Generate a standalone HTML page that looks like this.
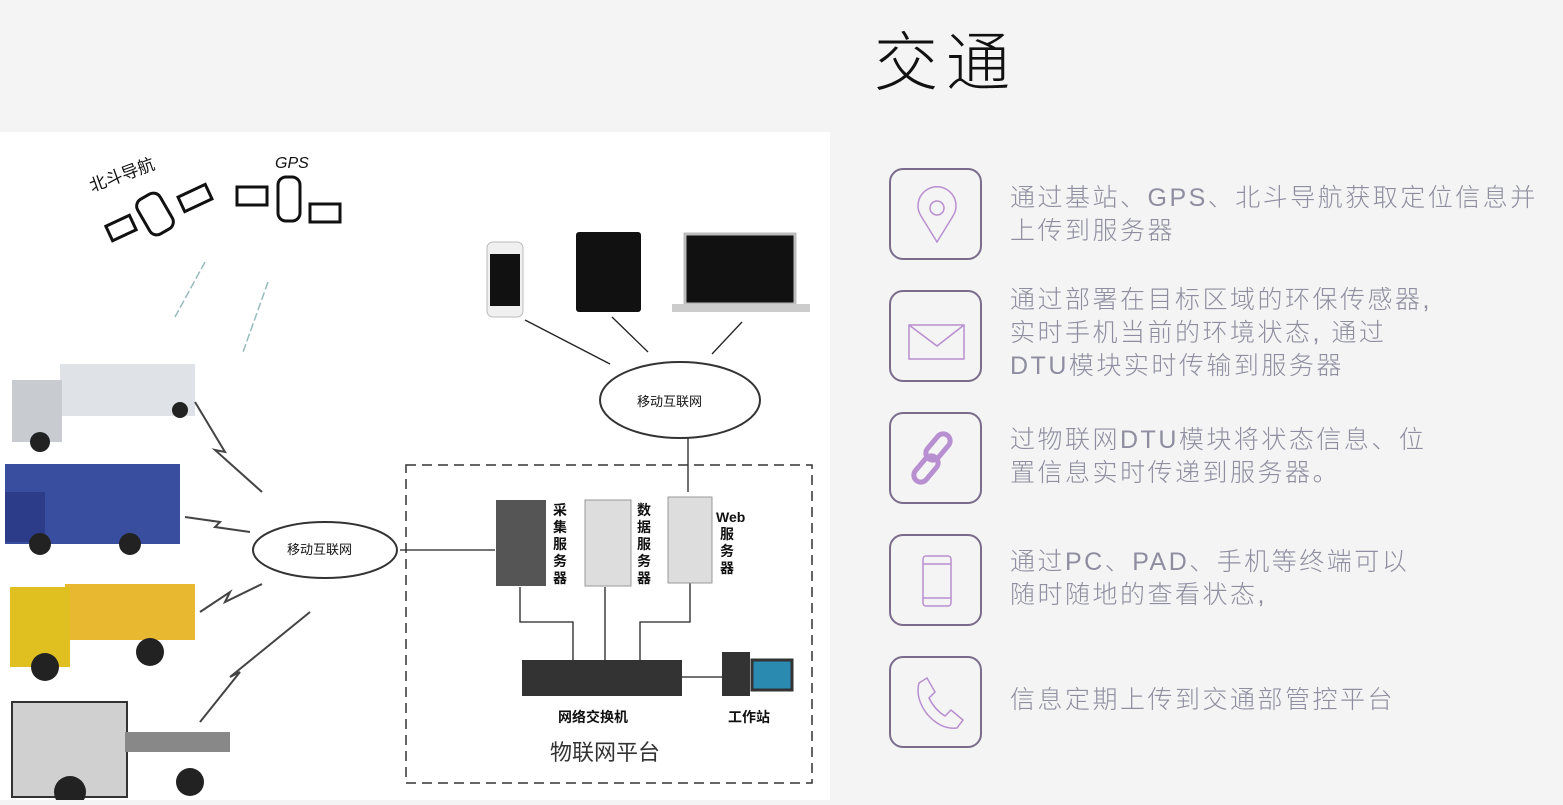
<!DOCTYPE html>
<html><head><meta charset="utf-8"><style>
*{margin:0;padding:0;box-sizing:border-box}
body{width:1563px;height:800px;background:#f4f4f4;position:relative;overflow:hidden;font-family:"Liberation Sans","Noto Sans CJK SC",sans-serif}
.title{position:absolute;left:874px;top:12px;font-size:64px;color:#111;letter-spacing:8px;font-weight:300}
.box{position:absolute;left:889px;width:93px;height:92px;border:2px solid #7b6c8c;border-radius:14px}
.box svg{position:absolute;left:0;top:0}
.txt{position:absolute;left:1010px;font-size:25px;letter-spacing:2.5px;line-height:33px;color:#8e8ea0;font-weight:300}
#dia{position:absolute;left:0;top:132px;width:830px;height:668px;background:#fff}
</style></head><body>
<div class="title">交通</div>
<div id="dia">
<svg width="830" height="668" font-family="Liberation Sans,Noto Sans CJK SC,sans-serif">
<text x="92" y="60" font-size="17" transform="rotate(-20 92 60)" fill="#111">北斗导航</text>
<text x="275" y="36" font-size="16" font-style="italic" fill="#111">GPS</text>
<g stroke="#111" stroke-width="3" fill="none">
<rect x="108" y="88" width="26" height="16" transform="rotate(-25 121 96)"/>
<rect x="142" y="62" width="26" height="40" rx="8" transform="rotate(-30 155 82)"/>
<rect x="180" y="58" width="30" height="16" transform="rotate(-25 195 66)"/>
<rect x="237" y="55" width="30" height="18"/>
<rect x="278" y="45" width="22" height="44" rx="8"/>
<rect x="310" y="72" width="30" height="18"/>
</g>
<g stroke="#9bb" stroke-width="1.5" stroke-dasharray="8 3"><line x1="205" y1="130" x2="175" y2="185"/><line x1="268" y1="150" x2="243" y2="220"/></g>
<rect x="60" y="232" width="135" height="52" fill="#dfe3e8"/><rect x="12" y="248" width="50" height="62" fill="#c8ccd0"/>
<rect x="5" y="332" width="175" height="80" fill="#3a4ea0"/><rect x="5" y="360" width="40" height="50" fill="#2c3c88"/>
<rect x="65" y="452" width="130" height="56" fill="#e8b830"/><rect x="10" y="455" width="60" height="80" fill="#e0c020"/>
<rect x="12" y="570" width="115" height="95" fill="#d0d0d0" stroke="#333" stroke-width="2"/><rect x="125" y="600" width="105" height="20" fill="#888"/>
<g fill="#222"><circle cx="40" cy="310" r="10"/><circle cx="180" cy="278" r="8"/><circle cx="40" cy="412" r="11"/><circle cx="130" cy="412" r="11"/><circle cx="45" cy="535" r="14"/><circle cx="150" cy="520" r="14"/><circle cx="70" cy="660" r="16"/><circle cx="190" cy="650" r="14"/></g>
<g stroke="#444" stroke-width="2" fill="none"><polyline points="195,270 225,320 215,318 262,360"/><polyline points="185,385 220,390 215,395 250,400"/><polyline points="200,480 230,460 225,470 262,452"/><polyline points="200,590 240,540 230,545 310,480"/></g>
<g fill="#fff" stroke="#333" stroke-width="2">
<ellipse cx="325" cy="418" rx="72" ry="28"/><ellipse cx="680" cy="268" rx="80" ry="38"/></g>
<text x="287" y="422" font-size="13" fill="#111">移动互联网</text>
<text x="637" y="274" font-size="13" fill="#111">移动互联网</text>
<rect x="487" y="110" width="36" height="75" rx="6" fill="#f0f0f0" stroke="#bbb"/><rect x="490" y="122" width="30" height="52" fill="#111"/>
<rect x="576" y="100" width="65" height="80" rx="3" fill="#111"/>
<rect x="685" y="102" width="110" height="70" fill="#111" stroke="#bbb" stroke-width="3"/><rect x="672" y="172" width="138" height="8" fill="#ccc"/>
<g stroke="#222" stroke-width="1.3"><line x1="525" y1="188" x2="610" y2="232"/><line x1="612" y1="185" x2="648" y2="220"/><line x1="742" y1="190" x2="712" y2="222"/><line x1="688" y1="306" x2="688" y2="360"/><line x1="400" y1="418" x2="495" y2="418"/>
<polyline points="520,455 520,490 573,490 573,530" fill="none"/><line x1="605" y1="455" x2="605" y2="530"/><polyline points="690,450 690,490 640,490 640,530" fill="none"/><line x1="680" y1="545" x2="730" y2="545"/></g>
<rect x="406" y="333" width="406" height="318" fill="none" stroke="#333" stroke-width="1.5" stroke-dasharray="10 6"/>
<rect x="496" y="368" width="50" height="86" fill="#555"/>
<rect x="585" y="368" width="46" height="86" fill="#ddd" stroke="#999"/>
<rect x="668" y="365" width="44" height="86" fill="#ddd" stroke="#999"/>
<g font-size="14" font-weight="bold" fill="#111"><text x="553" y="383">采</text><text x="553" y="400">集</text><text x="553" y="417">服</text><text x="553" y="434">务</text><text x="553" y="451">器</text>
<text x="637" y="383">数</text><text x="637" y="400">据</text><text x="637" y="417">服</text><text x="637" y="434">务</text><text x="637" y="451">器</text>
<text x="716" y="390">Web</text><text x="720" y="407">服</text><text x="720" y="424">务</text><text x="720" y="441">器</text>
<text x="558" y="590">网络交换机</text><text x="728" y="590">工作站</text></g>
<rect x="522" y="528" width="160" height="36" fill="#333"/>
<rect x="722" y="520" width="28" height="44" fill="#333"/><rect x="752" y="528" width="40" height="30" fill="#2a8ab0" stroke="#333" stroke-width="3"/>
<text x="550" y="628" font-size="22" fill="#333">物联网平台</text>
</svg></div>

<div class="box" style="top:168px"><svg width="93" height="92"><g fill="none" stroke="#b88fd0" stroke-width="1.5"><path d="M46 72 L30 46 A19 19 0 1 1 62 46 Z"/><circle cx="46" cy="38" r="7"/></g></svg></div>
<div class="txt" style="top:182px">通过基站、GPS、北斗导航获取定位信息并<br>上传到服务器</div>
<div class="box" style="top:290px"><svg width="93" height="92"><g fill="none" stroke="#b88fd0" stroke-width="1.5"><rect x="18" y="33" width="55" height="34"/><polyline points="18,33 46,54 73,33"/></g></svg></div>
<div class="txt" style="top:284px">通过部署在目标区域的环保传感器,<br>实时手机当前的环境状态, 通过<br>DTU模块实时传输到服务器</div>
<div class="box" style="top:412px"><svg width="93" height="92"><g fill="none" stroke="#b88fd0" stroke-width="5" stroke-linecap="round"><rect x="40" y="18" width="14" height="30" rx="7" transform="rotate(40 47 33)"/><rect x="28" y="40" width="14" height="30" rx="7" transform="rotate(40 35 55)"/></g></svg></div>
<div class="txt" style="top:424px">过物联网DTU模块将状态信息、位<br>置信息实时传递到服务器。</div>
<div class="box" style="top:534px"><svg width="93" height="92"><g fill="none" stroke="#b88fd0" stroke-width="1.5"><rect x="32" y="20" width="28" height="50" rx="3"/><line x1="32" y1="28" x2="60" y2="28"/><line x1="32" y1="62" x2="60" y2="62"/></g></svg></div>
<div class="txt" style="top:546px">通过PC、PAD、手机等终端可以<br>随时随地的查看状态,</div>
<div class="box" style="top:656px"><svg width="93" height="92"><path d="M28 25 L36 20 L44 34 L38 40 Q44 52 54 58 L60 52 L72 62 L66 70 Q50 72 36 56 Q24 40 28 25 Z" fill="none" stroke="#b88fd0" stroke-width="1.5"/></svg></div>
<div class="txt" style="top:684px">信息定期上传到交通部管控平台</div>
</body></html>
